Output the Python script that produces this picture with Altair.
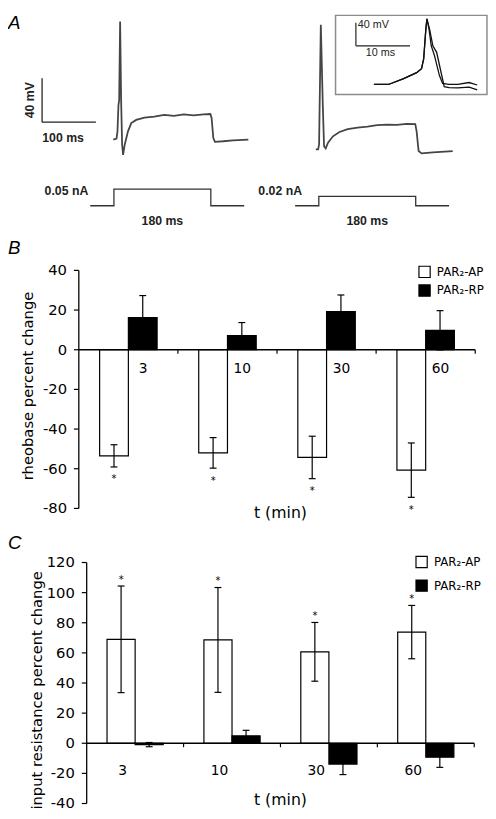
import altair as alt
import pandas as pd

# ---------------- Panels B and C: percent change ----------------
times = ["3", "10", "30", "60"]
series = ["PAR₂-AP", "PAR₂-RP"]

rheo_ap = [-53.5, -52.0, -54.3, -60.7]
rheo_ap_err = [5.6, 7.7, 10.7, 13.7]
rheo_rp = [16.2, 7.1, 19.2, 9.8]
rheo_rp_err = [11.1, 6.6, 8.4, 9.9]

ires_ap = [69.0, 68.6, 60.7, 73.8]
ires_ap_err = [35.4, 34.8, 19.5, 17.7]
ires_rp = [-0.9, 4.9, -13.8, -9.3]
ires_rp_err = [1.4, 3.7, 7.0, 6.7]

rheo_ticks = [40, 20, 0, -20, -40, -60, -80]
ires_ticks = [120, 100, 80, 60, 40, 20, 0, -20, -40]

# ---------------- Panel A: voltage traces (ms, mV) ----------------
left_t = [-1.3, 0.5, 4.8, 6.6, 8.4, 9.7, 11.5, 13.3, 15.2, 17.0, 20.1, 26.1, 32.2, 41.3,
          56.7, 75.0, 93.2, 111.5, 129.8, 148.1, 166.4, 179.2, 181.5, 184.6, 187.6,
          202.9, 221.2, 249.7]
left_v = [-60.0, -60.0, -59.4, -52.8, -28.9, -24.5, 47.2, -22.9, -64.7, -74.3, -64.7,
          -52.8, -45.3, -42.4, -40.3, -39.4, -37.9, -38.8, -37.3, -38.2, -37.3, -37.0,
          -40.8, -58.7, -62.3, -61.8, -60.9, -60.3]
right_t = [-5.5, -1.3, 0.5, 3.7, 7.4, 9.7, 12.8, 17.1, 26.3, 38.4, 53.6, 72.0, 90.3,
           108.5, 126.8, 145.1, 163.4, 179.2, 181.7, 185.4, 190.9, 212.1, 248.7]
right_v = [-69.2, -69.2, -64.7, 44.2, -28.9, -66.3, -68.3, -63.2, -57.3, -53.4, -50.7,
           -49.3, -48.4, -47.1, -46.6, -46.8, -45.9, -46.2, -52.8, -70.7, -72.8, -71.9,
           -70.7]

# inset: two superimposed action potentials (ms, mV)
inset1_t = [0, 2.7, 5.5, 7.9, 8.8, 9.2, 9.6, 9.8, 10.2, 10.6, 11.2, 12.1, 12.7, 13.9,
            15.5, 17.6, 19.1]
inset1_v = [-60, -60, -49.7, -39.5, -32.6, -15.6, 35.7, 54.0, 35.7, 7.2, -9.9, -44.1,
            -58.3, -60, -60, -56.6, -60.9]
inset2_t = [0, 2.7, 5.5, 7.9, 8.8, 9.2, 9.6, 9.8, 10.3, 10.9, 11.6, 12.4, 13.0, 13.9,
            15.5, 17.6, 19.1]
inset2_v = [-60, -60, -49.7, -39.5, -32.6, -15.6, 35.7, 54.0, 35.7, 7.2, -4.1, -38.3,
            -63.9, -65.6, -66.0, -64.6, -69.4]

# current steps (ms, nA)
step_t = [-44, 0, 0, 180, 180, 242]
step_left_na = [0, 0, 0.05, 0.05, 0, 0]
step_right_na = [0, 0, 0.02, 0.02, 0, 0]

# scale bars
bar_ms, bar_mv = 100, 40
inset_bar_ms, inset_bar_mv = 10, 40

# ---------------- layout (pixel ranges of each scale) ----------------
FONT = "DejaVu Sans"
ARIAL = "Liberation Sans"
BAR_LEFT, BAR_W = 0.21, 0.29


def sc(domain, rng):
    return alt.Scale(domain=domain, range=rng, nice=False, zero=False)


def xq(f, s):
    return alt.X(f, type="quantitative", scale=s, axis=None)


def yq(f, s):
    return alt.Y(f, type="quantitative", scale=s, axis=None)


def xd(v, s):
    return alt.XDatum(v, type="quantitative", scale=s, axis=None)


def yd(v, s):
    return alt.YDatum(v, type="quantitative", scale=s, axis=None)


ONE = pd.DataFrame({"k": [0]})
layers = []


def bar_panel(ap, ap_err, rp, rp_err, ticks, sx, sy, ydom, lab_off, lab_dy,
              ast_field, ast_dy, ytitle, t_xoff, t_yoff, tmin_dx, tmin_dy,
              leg_x, leg_y, leg_pad, letter, let_dx, let_dy):
    rows = []
    for i, t in enumerate(times):
        for k, (vals, errs) in enumerate([(ap, ap_err), (rp, rp_err)]):
            x0 = i + BAR_LEFT + k * BAR_W
            rows.append({"time": t, "series": series[k], "x0": x0, "x1": x0 + BAR_W,
                         "xc": x0 + BAR_W / 2, "v": vals[i],
                         "lo": vals[i] - errs[i], "hi": vals[i] + errs[i]})
    df = pd.DataFrame(rows)
    tk = pd.DataFrame({"v": ticks, "lab": [str(v) for v in ticks]})
    cats = pd.DataFrame({"time": times, "gx": [i + lab_off for i in range(len(times))]})
    gticks = pd.DataFrame({"gx": list(range(1, len(times) + 1))})

    out = []
    out.append(alt.Chart(df).mark_bar(stroke="black", strokeWidth=1.2).encode(
        x=xq("x0", sx), x2="x1", y=yq("v", sy), y2=alt.Y2Datum(0),
        fill=alt.Fill("series:N", scale=alt.Scale(domain=series, range=["white", "black"]),
                      legend=alt.Legend(title=None, orient="none", legendX=leg_x, legendY=leg_y,
                                        symbolType="square", symbolSize=130,
                                        symbolStrokeColor="black", symbolStrokeWidth=1.2,
                                        labelFont=FONT, labelFontSize=12, labelColor="black",
                                        rowPadding=leg_pad, labelOffset=6, padding=0))))
    # error bars
    out.append(alt.Chart(df).mark_rule(color="black", strokeWidth=1.2).encode(
        x=xq("xc", sx), y=yq("lo", sy), y2="hi"))
    for f in ["lo", "hi"]:
        out.append(alt.Chart(df).mark_tick(orient="horizontal", size=7, thickness=1.2,
                                           color="black", opacity=1).encode(
            x=xq("xc", sx), y=yq(f, sy)))
    # significance asterisks (PAR2-AP)
    out.append(alt.Chart(df[df["series"] == series[0]]).mark_text(
        text="*", font=FONT, fontSize=10, baseline="top", dy=ast_dy, color="black").encode(
        x=xq("xc", sx), y=yq(ast_field, sy)))
    # zero line with group ticks
    out.append(alt.Chart(ONE).mark_rule(color="black", strokeWidth=1.5).encode(
        x=xd(0, sx), x2=alt.X2Datum(len(times)), y=yd(0, sy)))
    out.append(alt.Chart(gticks).mark_tick(orient="vertical", size=4, thickness=1.2,
                                           color="black", opacity=1, yOffset=2).encode(
        x=xq("gx", sx), y=yd(0, sy)))
    # y axis
    out.append(alt.Chart(ONE).mark_rule(color="black", strokeWidth=1.3).encode(
        x=xd(0, sx), y=yd(ydom[0], sy), y2=alt.Y2Datum(ydom[1])))
    out.append(alt.Chart(tk).mark_tick(orient="horizontal", size=5, thickness=1.2,
                                       color="black", opacity=1, xOffset=-2.5).encode(
        x=xd(0, sx), y=yq("v", sy)))
    out.append(alt.Chart(tk).mark_text(align="right", baseline="middle", dx=-12,
                                       font=FONT, fontSize=15, color="black").encode(
        x=xd(0, sx), y=yq("v", sy), text="lab:N"))
    # category labels
    out.append(alt.Chart(cats).mark_text(align="center", baseline="middle", dy=lab_dy,
                                         font=FONT, fontSize=14, color="black").encode(
        x=xq("gx", sx), y=yd(0, sy), text="time:N"))
    # titles
    out.append(alt.Chart(ONE).mark_text(text=ytitle, angle=270, align="center",
                                        baseline="middle", xOffset=t_xoff, yOffset=t_yoff,
                                        font=FONT, fontSize=15, color="black").encode(
        x=xd(0, sx), y=yd((ydom[0] + ydom[1]) / 2, sy)))
    out.append(alt.Chart(ONE).mark_text(text="t (min)", align="center", baseline="middle",
                                        dx=tmin_dx, dy=tmin_dy, font=FONT, fontSize=16,
                                        color="black").encode(
        x=xd(len(times) / 2, sx), y=yd(ydom[0], sy)))
    out.append(alt.Chart(ONE).mark_text(text=letter, align="left", baseline="middle",
                                        dx=let_dx, dy=let_dy, font=ARIAL, fontSize=19,
                                        fontStyle="italic", color="black").encode(
        x=xd(0, sx), y=yd(ydom[1], sy)))
    return out


# Panel B
SBX, SBY = sc([0, 4], [72, 475]), sc([-80, 40], [502, 260])
layers += bar_panel(rheo_ap, rheo_ap_err, rheo_rp, rheo_rp_err, rheo_ticks, SBX, SBY,
                    [-80, 40], 0.65, 19.5, "lo", 7.7, "rheobase percent change",
                    -52, -3.5, 3.5, 5, 417, 255, 2, "B", -72, -23)
# Panel C
SCX, SCY = sc([0, 4], [80, 474]), sc([-40, 120], [802, 557])
layers += bar_panel(ires_ap, ires_ap_err, ires_rp, ires_rp_err, ires_ticks, SCX, SCY,
                    [-40, 120], 0.37, 28, "hi", -11.3, "input resistance percent change",
                    -50.5, 7.5, 0, -3.3, 414, 550, 7, "C", -80, -20)

# ---------------- Panel A ----------------
SALX = sc([0, 180], [107.7, 206.2])
SARX = sc([0, 180], [316, 414.5])
SAY = sc([-60, 40], [126.7, 15.0])
SSLY = sc([0, 0.05], [194.3, 177.3])
SSRY = sc([0, 0.02], [194.3, 184.7])
SIX = sc([0, 10], [372, 427])
SIY = sc([-60, -20], [71, 47.6])

TRACE_COLOR = "#454545"


def line_layer(ts, vs, s_x, s_y, color, width):
    df = pd.DataFrame({"t": ts, "v": vs, "i": list(range(len(ts)))})
    return alt.Chart(df).mark_line(color=color, strokeWidth=width).encode(
        x=xq("t", s_x), y=yq("v", s_y), order="i:Q")


def segments(t0, v0, dt, dv, s_x, s_y, width):
    df = pd.DataFrame({"x": [t0, t0], "x2": [t0, t0 + dt], "y": [v0, v0], "y2": [v0 + dv, v0]})
    return alt.Chart(df).mark_rule(color="#222222", strokeWidth=width).encode(
        x=xq("x", s_x), x2="x2", y=yq("y", s_y), y2="y2")


def label(text, x, y, s_x, s_y, **kw):
    props = dict(text=text, font=ARIAL, fontSize=12.5, fontWeight="bold", color="#222222",
                 align="center", baseline="middle")
    props.update(kw)
    return alt.Chart(ONE).mark_text(**props).encode(x=xd(x, s_x), y=yd(y, s_y))


# inset frame (drawn first)
layers.append(alt.Chart(ONE).mark_rect(fill="white", stroke="#8c8c8c", strokeWidth=1.5).encode(
    x=xd(-7.09, SIX), x2=alt.X2Datum(20.9), y=yd(60.1, SIY), y2=alt.Y2Datum(-77.6)))

layers.append(line_layer(left_t, left_v, SALX, SAY, TRACE_COLOR, 1.8))
layers.append(line_layer(right_t, right_v, SARX, SAY, TRACE_COLOR, 1.8))
layers.append(line_layer(step_t, step_left_na, SALX, SSLY, "#333333", 1.3))
layers.append(line_layer(step_t, step_right_na, SARX, SSRY, "#333333", 1.3))
layers.append(line_layer(inset1_t, inset1_v, SIX, SIY, "#111111", 1.3))
layers.append(line_layer(inset2_t, inset2_v, SIX, SIY, "#111111", 1.3))

# scale bars
SB_T0, SB_V0 = -133.5, -44.4
layers.append(segments(SB_T0, SB_V0, bar_ms, bar_mv, SALX, SAY, 1.3))
layers.append(label("40 mV", SB_T0, SB_V0 + bar_mv / 2, SALX, SAY, angle=270, xOffset=-12.7))
layers.append(label("100 ms", SB_T0 + bar_ms / 2, SB_V0, SALX, SAY, dx=-6, dy=16))
IB_T0, IB_V0 = -3.33, 7.2
layers.append(segments(IB_T0, IB_V0, inset_bar_ms, inset_bar_mv, SIX, SIY, 1.2))
layers.append(label("40 mV", IB_T0, IB_V0 + inset_bar_mv, SIX, SIY, fontWeight="normal",
                    fontSize=11, align="left", dx=2, dy=2.5))
layers.append(label("10 ms", IB_T0 + inset_bar_ms / 2, IB_V0, SIX, SIY, fontWeight="normal",
                    fontSize=11, dx=-2.5, dy=7.5))

# step annotations
layers.append(label("0.05 nA", step_t[0], step_left_na[2], SALX, SSLY, align="right", dx=-2, dy=2))
layers.append(label("0.02 nA", step_t[0], step_right_na[2], SARX, SSRY, align="right", dx=7, dy=-5))
layers.append(label("180 ms", step_t[3] / 2, 0, SALX, SSLY, dy=16))
layers.append(label("180 ms", step_t[3] / 2, 0, SARX, SSRY, dy=16))

# panel letter A
layers.append(alt.Chart(ONE).mark_text(text="A", align="left", baseline="top", dx=-107.7, dy=-15,
                                       font=ARIAL, fontSize=19, fontStyle="italic",
                                       color="black").encode(x=xd(0, SALX), y=yd(40, SAY)))

chart = alt.layer(*layers).resolve_scale(
    x="independent", y="independent", fill="independent"
).resolve_legend(fill="independent").properties(
    width=488, height=811, padding=0, autosize=alt.AutoSizeParams(type="none")
).configure_view(stroke=None)

chart.save("out.html", embed_options={"renderer": "svg", "actions": False})
